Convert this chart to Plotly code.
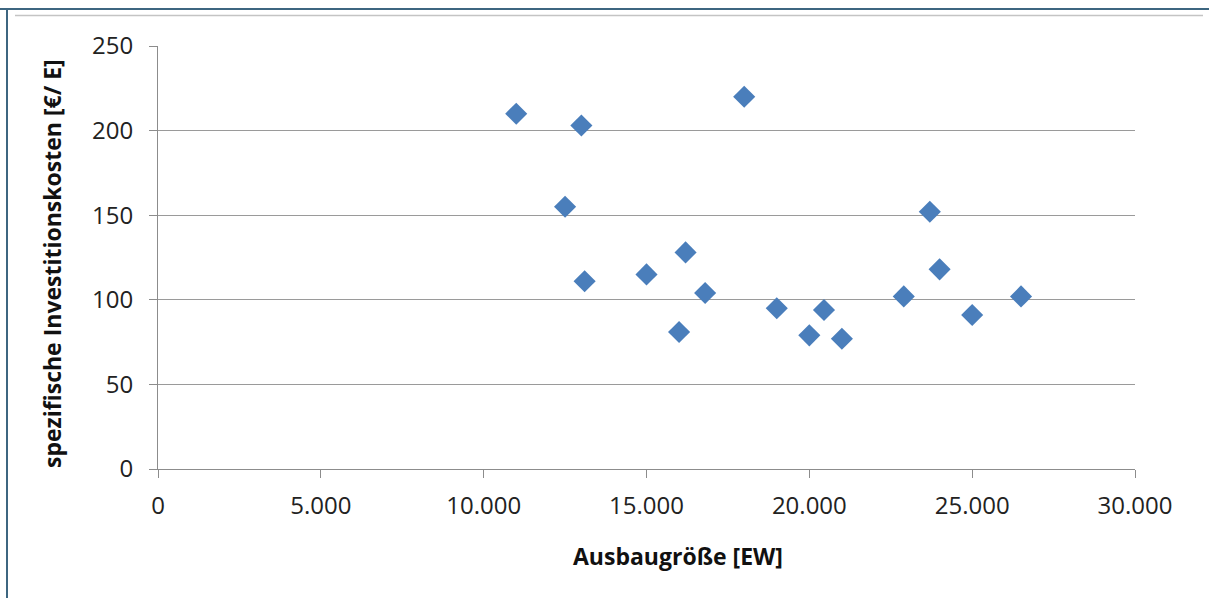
import plotly.graph_objects as go

# Data
ausbaugroesse_ew = [11000, 13000, 12500, 13100, 15000, 16000, 16200, 16800, 18000,
                    19000, 20000, 20450, 21000, 22900, 23700, 24000, 25000, 26500]
invest_kosten = [210, 203, 155, 111, 115, 81, 128, 104, 220,
                 95, 79, 94, 77, 102, 152, 118, 91, 102]

x_title = "Ausbaugröße [EW]"
y_title = "spezifische Investitionskosten [€/ E]"

W, H = 1209, 598
L, R, T, B = 158, 1135, 46, 469
pw, ph = R - L, B - T


def px(x):
    return (x - L) / pw


def py(y):
    return (B - y) / ph


fig = go.Figure()
fig.add_trace(go.Scatter(
    x=ausbaugroesse_ew, y=invest_kosten, mode="markers",
    marker=dict(symbol="diamond", size=17, color="#4a7ebb",
                line=dict(width=0)),
    hoverinfo="x+y", showlegend=False, cliponaxis=False,
))

axis_common = dict(
    showline=True, linecolor="#8c8c8c", linewidth=1,
    ticks="outside", ticklen=8, tickcolor="#8c8c8c", tickwidth=1,
    tickfont=dict(family="Open Sans", size=24, color="#222222"),
    zeroline=False,
)

fig.update_xaxes(
    range=[0, 30000], dtick=5000, tick0=0, tickformat=",d",
    showgrid=False, ticklabelstandoff=7,
    **axis_common,
)
fig.update_yaxes(
    range=[0, 250], dtick=50, tick0=0,
    showgrid=True, gridcolor="#9a9a9a", gridwidth=1,
    ticklabelstandoff=11,
    **axis_common,
)

title_font = dict(family="Open Sans", size=23, color="#111111", weight="bold")
annotations = [
    dict(text=x_title, xref="paper", yref="paper", x=px(678), y=py(556),
         xanchor="center", yanchor="middle", showarrow=False, font=title_font),
    dict(text=y_title, xref="paper", yref="paper", x=px(52), y=py(264),
         xanchor="center", yanchor="middle", showarrow=False, textangle=-90,
         font=title_font),
]

shapes = [
    # dark frame: top and left
    dict(type="line", xref="paper", yref="paper", x0=px(0), x1=px(W), y0=py(9), y1=py(9),
         line=dict(color="#3d6680", width=2)),
    dict(type="line", xref="paper", yref="paper", x0=px(7), x1=px(7), y0=py(8), y1=py(H + 2),
         line=dict(color="#3d6680", width=2)),
    # thin light line under top frame
    dict(type="line", xref="paper", yref="paper", x0=px(15), x1=px(1203), y0=py(15.5), y1=py(15.5),
         line=dict(color="#c4c4c4", width=1.5)),
]

fig.update_layout(
    width=W, height=H,
    margin=dict(l=L, r=W - R, t=T, b=H - B, pad=0),
    paper_bgcolor="white", plot_bgcolor="white",
    separators=",.",
    shapes=shapes,
    annotations=annotations,
    font=dict(family="Open Sans"),
)

fig.write_html("out.html")
